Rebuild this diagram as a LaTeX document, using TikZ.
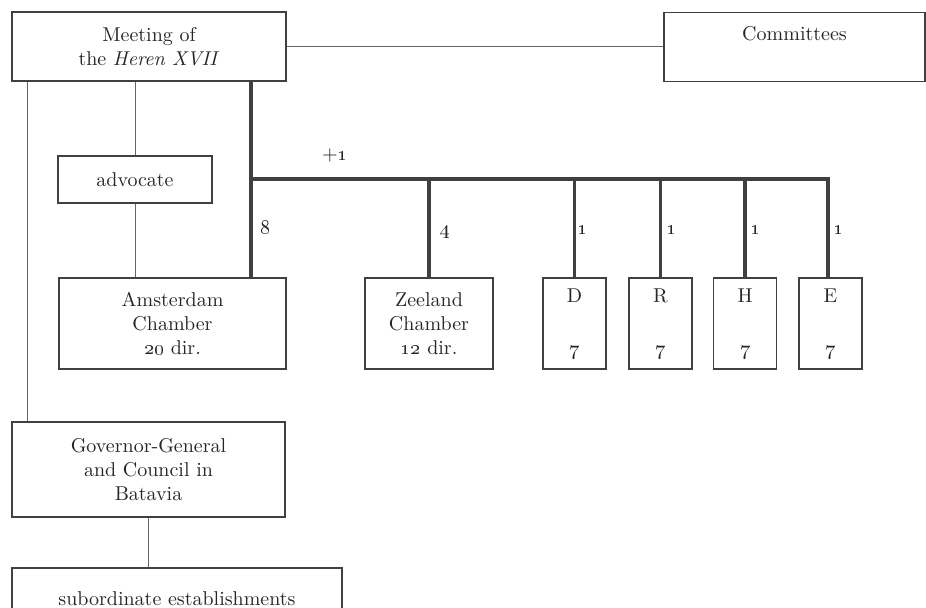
\documentclass[tikz,border=0pt]{standalone}
\usetikzlibrary{calc,positioning}

\begin{document}
\begin{tikzpicture}
	[x=0.5pt,y=-0.5pt,every node/.style={shape=rectangle,draw=black!75,line width=0.6pt,align=center,inner sep=0pt,text=black!85},
	lbl/.style={draw=none},
	chamber/.style={minimum width=31.5pt,minimum height=45.5pt},
	thinline/.style={draw=black!60,line width=0.5pt},
	thickline/.style={draw=black!75,line width=1.6pt}]
	\useasboundingbox (0,0) rectangle (926,608);

	\node[minimum width=137pt,minimum height=34.5pt] (meet) at (149,46.5) {Meeting of\\the \textit{Heren XVII}};
	\node[minimum width=130.5pt,text height=14pt,text depth=20.5pt,anchor=north] (comm) at (794.5,12) {Committees};
	\node[minimum width=77pt,minimum height=23.5pt] (advo) at (135,179.5) {advocate};
	\node[minimum width=113.5pt,minimum height=45.5pt] (amst) at (172.5,323.5) {Amsterdam\\Chamber\\\oldstylenums{20} dir.};
	\node[minimum width=64pt,minimum height=45.5pt] (zeel) at (429,323.5) {Zeeland\\Chamber\\\oldstylenums{12} dir.};
	\foreach \name/\letter/\xpos in {dbox/D/574.5,rbox/R/660.5,hbox/H/745,ebox/E/830.5}
		\node[chamber] (\name) at (\xpos,323.5) {\letter\\[14pt]\oldstylenums{7}};
	\node[minimum width=136.5pt,minimum height=47.5pt] (gov) at (148.5,469.5) {Governor-General\\and Council in\\Batavia};
	\node[minimum width=165pt,minimum height=31pt] (sub) at (177,599) {subordinate establishments};

	% thin links
	\draw[thinline] (meet.east) -- (meet.east -| comm.west);
	\draw[thinline] ([xshift=8pt]meet.south west) -- ([xshift=8pt]gov.north west);
	\draw[thinline] (advo.north) -- (advo.north |- meet.south);
	\draw[thinline] (advo.south) -- (advo.south |- amst.north);
	\draw[thinline] (gov.south) -- (gov.south |- sub.north);

	% directors sent by the chambers
	\coordinate (b0) at (251,179);
	\coordinate (bend) at (828,179);
	\draw[thickline] (b0 |- meet.south) -- (b0 |- amst.north);
	\draw[thickline] (b0) -- (bend) -- (bend |- ebox.north);
	\path[thickline]
	\foreach \chNode in {zeel,dbox,rbox,hbox}
	{
		(\chNode.north) edge (\chNode.north |- b0)
	};

	\node[lbl] at (335,156) {+\oldstylenums{1}};
	\node[lbl] at (265,227) {\oldstylenums{8}};
	\node[lbl] at (445,232) {\oldstylenums{4}};
	\foreach \xpos in {582,671,755,838}
		\node[lbl] at (\xpos,230) {\oldstylenums{1}};
\end{tikzpicture}
\end{document}
